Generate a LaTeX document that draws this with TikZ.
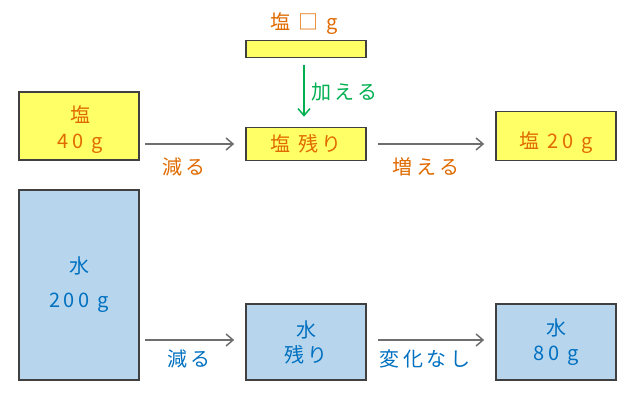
\documentclass[tikz,border=0pt]{standalone}
\usepackage{fontspec}
\setmainfont{Noto Sans CJK JP}[LetterSpace=18]
\usetikzlibrary{arrows.meta}
\definecolor{saltfill}{HTML}{FFFF66}
\definecolor{waterfill}{HTML}{B7D6EE}
\definecolor{edgegray}{HTML}{404040}
\definecolor{orangetxt}{HTML}{E06A00}
\definecolor{bluetxt}{HTML}{0070C0}
\definecolor{greentxt}{HTML}{00B050}
\definecolor{arrowgray}{HTML}{6E6E6E}
\tikzset{
  box/.style={draw=edgegray, line width=1.6pt, inner sep=0pt, align=center, minimum width=120pt},
  saltbox/.style={box, fill=saltfill, text=orangetxt},
  waterbox/.style={box, fill=waterfill, text=bluetxt},
  conn/.style={draw=arrowgray, line width=1.5pt, -{Straight Barb[length=7pt,width=12pt,line width=1.5pt]}},
  addarrow/.style={draw=greentxt, line width=1.5pt, -{Straight Barb[length=7pt,width=12pt,line width=1.5pt]}},
  lbl/.style={inner sep=0pt, align=center}
}
\begin{document}
\begin{tikzpicture}[x=1pt,y=-1pt,font=\fontsize{20}{24}\selectfont]
\useasboundingbox (0,0) rectangle (629,395);
% salt row
\node[saltbox, minimum height=68pt] (sa) at (79,126) {};
\node[lbl, text=orangetxt, font=\fontsize{20}{26}\selectfont] (satext) at (80,130) {塩\\40 g};
\node[saltbox, minimum height=17pt] (bar) at (306,49) {};
\node[saltbox, minimum height=33pt] (sb) at (306,144) {塩\hspace{8pt}残り};
\node[saltbox, minimum height=49pt] (sc) at (556,136) {};
\node[lbl, text=orangetxt] (sctext) at (556,143) {塩 20 g};
% water row
\node[waterbox, minimum height=190pt, font=\fontsize{20}{34}\selectfont] (wa) at (79,285) {水\\200 g};
\node[waterbox, minimum height=76pt, font=\fontsize{20}{25}\selectfont] (wb) at (306,342) {水\\残り};
\node[waterbox, minimum height=76pt, font=\fontsize{20}{25}\selectfont] (wc) at (556,342) {水\\80 g};
% labels
\node[lbl, text=orangetxt] (top) at (304,24) {塩 □ g};
\node[lbl, text=greentxt, anchor=west] (add) at (311,92) {加える};
\node[lbl, text=orangetxt] (l1) at (184,167) {減る};
\node[lbl, text=orangetxt] (l2) at (426,167) {増える};
\node[lbl, text=bluetxt] (l3) at (189,359) {減る};
\node[lbl, text=bluetxt] (l4) at (425,359) {変化なし};
% connectors
\draw[conn, shorten <=5pt, shorten >=11pt] (sa.east |- sb) -- (sb.west);
\draw[conn, shorten <=11pt, shorten >=11pt] (sb.east) -- (sc.west |- sb);
\draw[addarrow, shorten <=7pt, shorten >=10pt] ([xshift=-2pt]bar.south) -- ([xshift=-2pt]sb.north);
\draw[conn, shorten <=5pt, shorten >=11pt] (wa.east |- 0,340) -- (wb.west |- 0,340);
\draw[conn, shorten <=11pt, shorten >=11pt] (wb.east |- 0,340) -- (wc.west |- 0,340);
\end{tikzpicture}
\end{document}
